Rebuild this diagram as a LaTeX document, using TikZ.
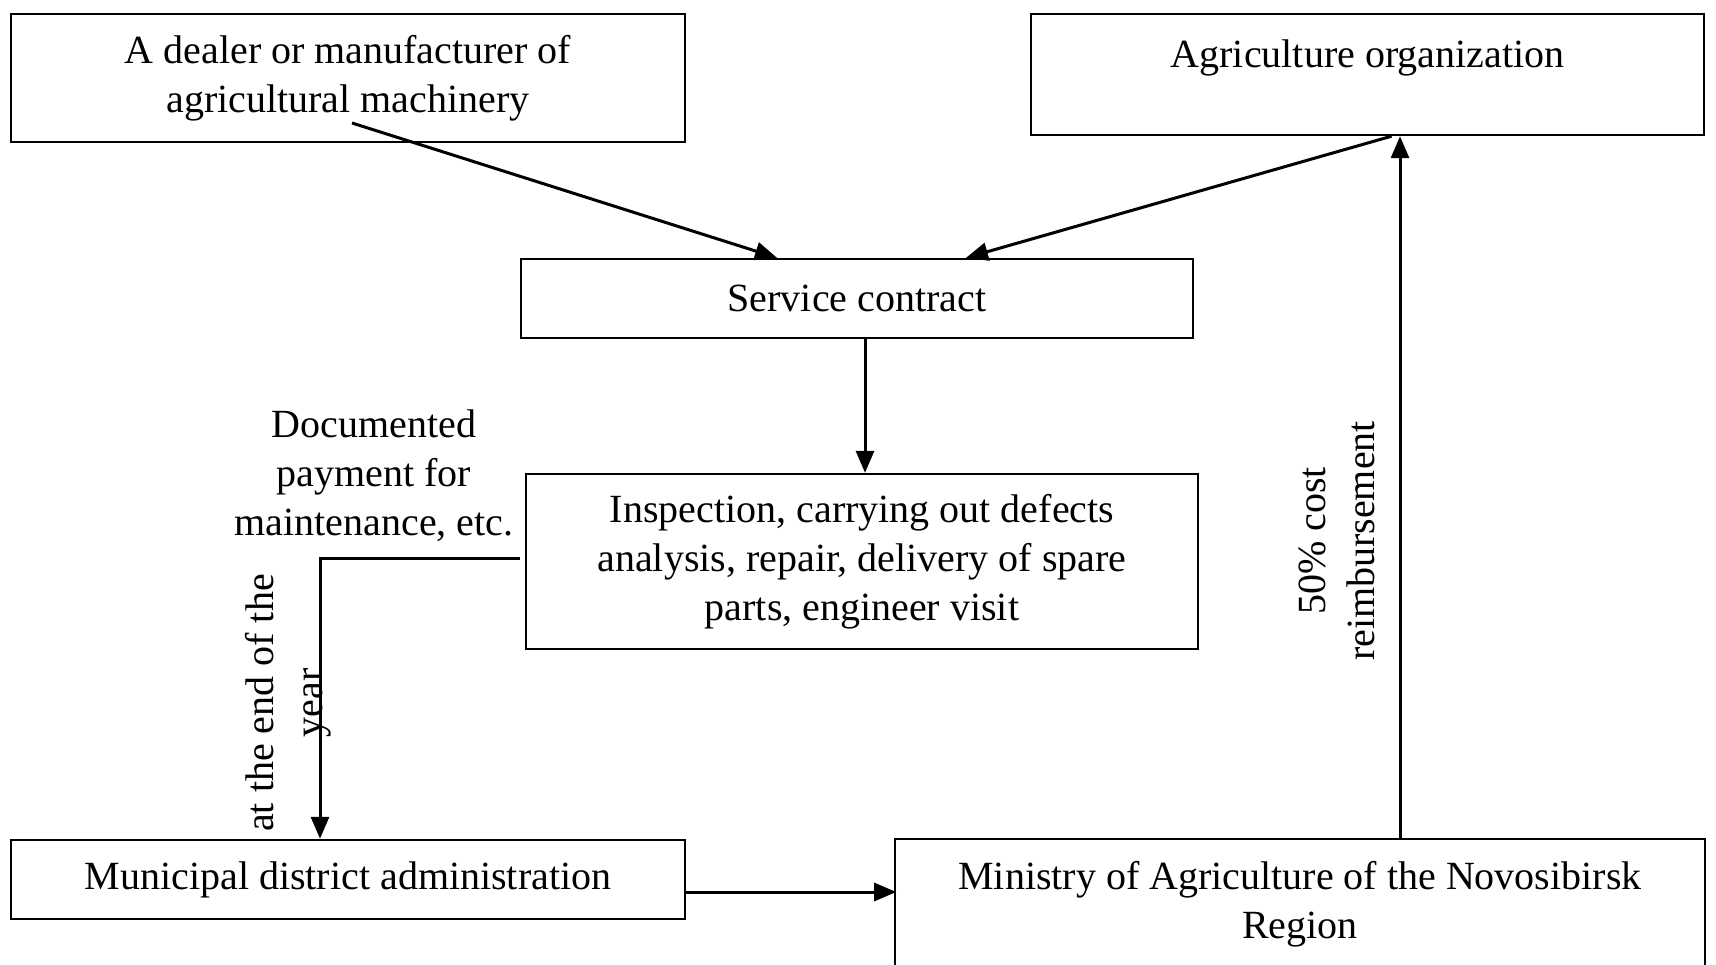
\documentclass[tikz,border=0pt]{standalone}
\usepackage{fontspec}
\setmainfont{Liberation Serif}
\usepackage{tikz}
\usetikzlibrary{calc}
\usetikzlibrary{arrows.meta}
\newcommand{\widthbox}{337pt}
\newcommand{\heightsmall}{39.5pt}
\tikzset{
    common/.style={draw, rectangle, line width=1.2pt, inner sep=0pt, align=center},
    box/.style={common, minimum width=\widthbox},
    smallbox/.style={box, minimum height=\heightsmall},
    arr/.style={-{Triangle[length=11pt,width=9pt]}, line width=1.5pt},
    note/.style={align=center, inner sep=0pt}
}
\begin{document}
\begin{tikzpicture}[x=0.5pt, y=-0.5pt, font=\fontsize{20}{24.5}\selectfont]
    \useasboundingbox (0,0) rectangle (1716,964);

    \node[box, minimum height=64pt] (dealer) at (348,78)
        {A dealer or manufacturer of\\agricultural machinery};
    \node[box, minimum width=336.5pt, minimum height=60.5pt] (agri) at (1367.5,74.5)
        {Agriculture organization\\[-11pt]\strut};
    \node[smallbox, minimum width=336pt] (service) at (857,298.5) {Service contract};
    \node[box, minimum width=336pt, minimum height=87.5pt] (inspect) at (862,561.5)
        {Inspection, carrying out defects\\analysis, repair, delivery of spare\\parts, engineer visit};
    \node[smallbox] (municipal) at (348,879.5) {Municipal district administration};
    \node[box, minimum width=405pt, minimum height=65pt] (ministry) at (1300,904)
        {Ministry of Agriculture of the Novosibirsk\\Region};

    % labels
    \node[note] (paylbl) at (374,476) {Documented\\payment for\\maintenance, etc.};
    \node[note, rotate=90] (yearlbl) at (288.5,703) {at the end of the\\year};
    \node[note, rotate=90] (costlbl) at (1336.5,541) {50\% cost\\reimbursement};

    \coordinate (dealerout) at (352,123);
    \draw[arr] (dealerout) -- ($(service.north)+(-80,0)$);
    \draw[arr] ($(agri.south)+(24,0)$) -- ($(service.north)+(109,0)$);
    \draw[arr] ($(service.south)+(8,0)$) -- ($(inspect.north)+(3,0)$);
    \draw[arr] ($(inspect.west)+(-5,-3.5)$) -| ($(municipal.north)+(-28,0)$);
    \draw[arr] ($(municipal.east)+(0,12.5)$) -- ($(municipal.east)+(210,12.5)$);
    \draw[arr] ($(ministry.north)+(100,0)$) -- ($(agri.south)+(32.5,0)$);
\end{tikzpicture}
\end{document}
